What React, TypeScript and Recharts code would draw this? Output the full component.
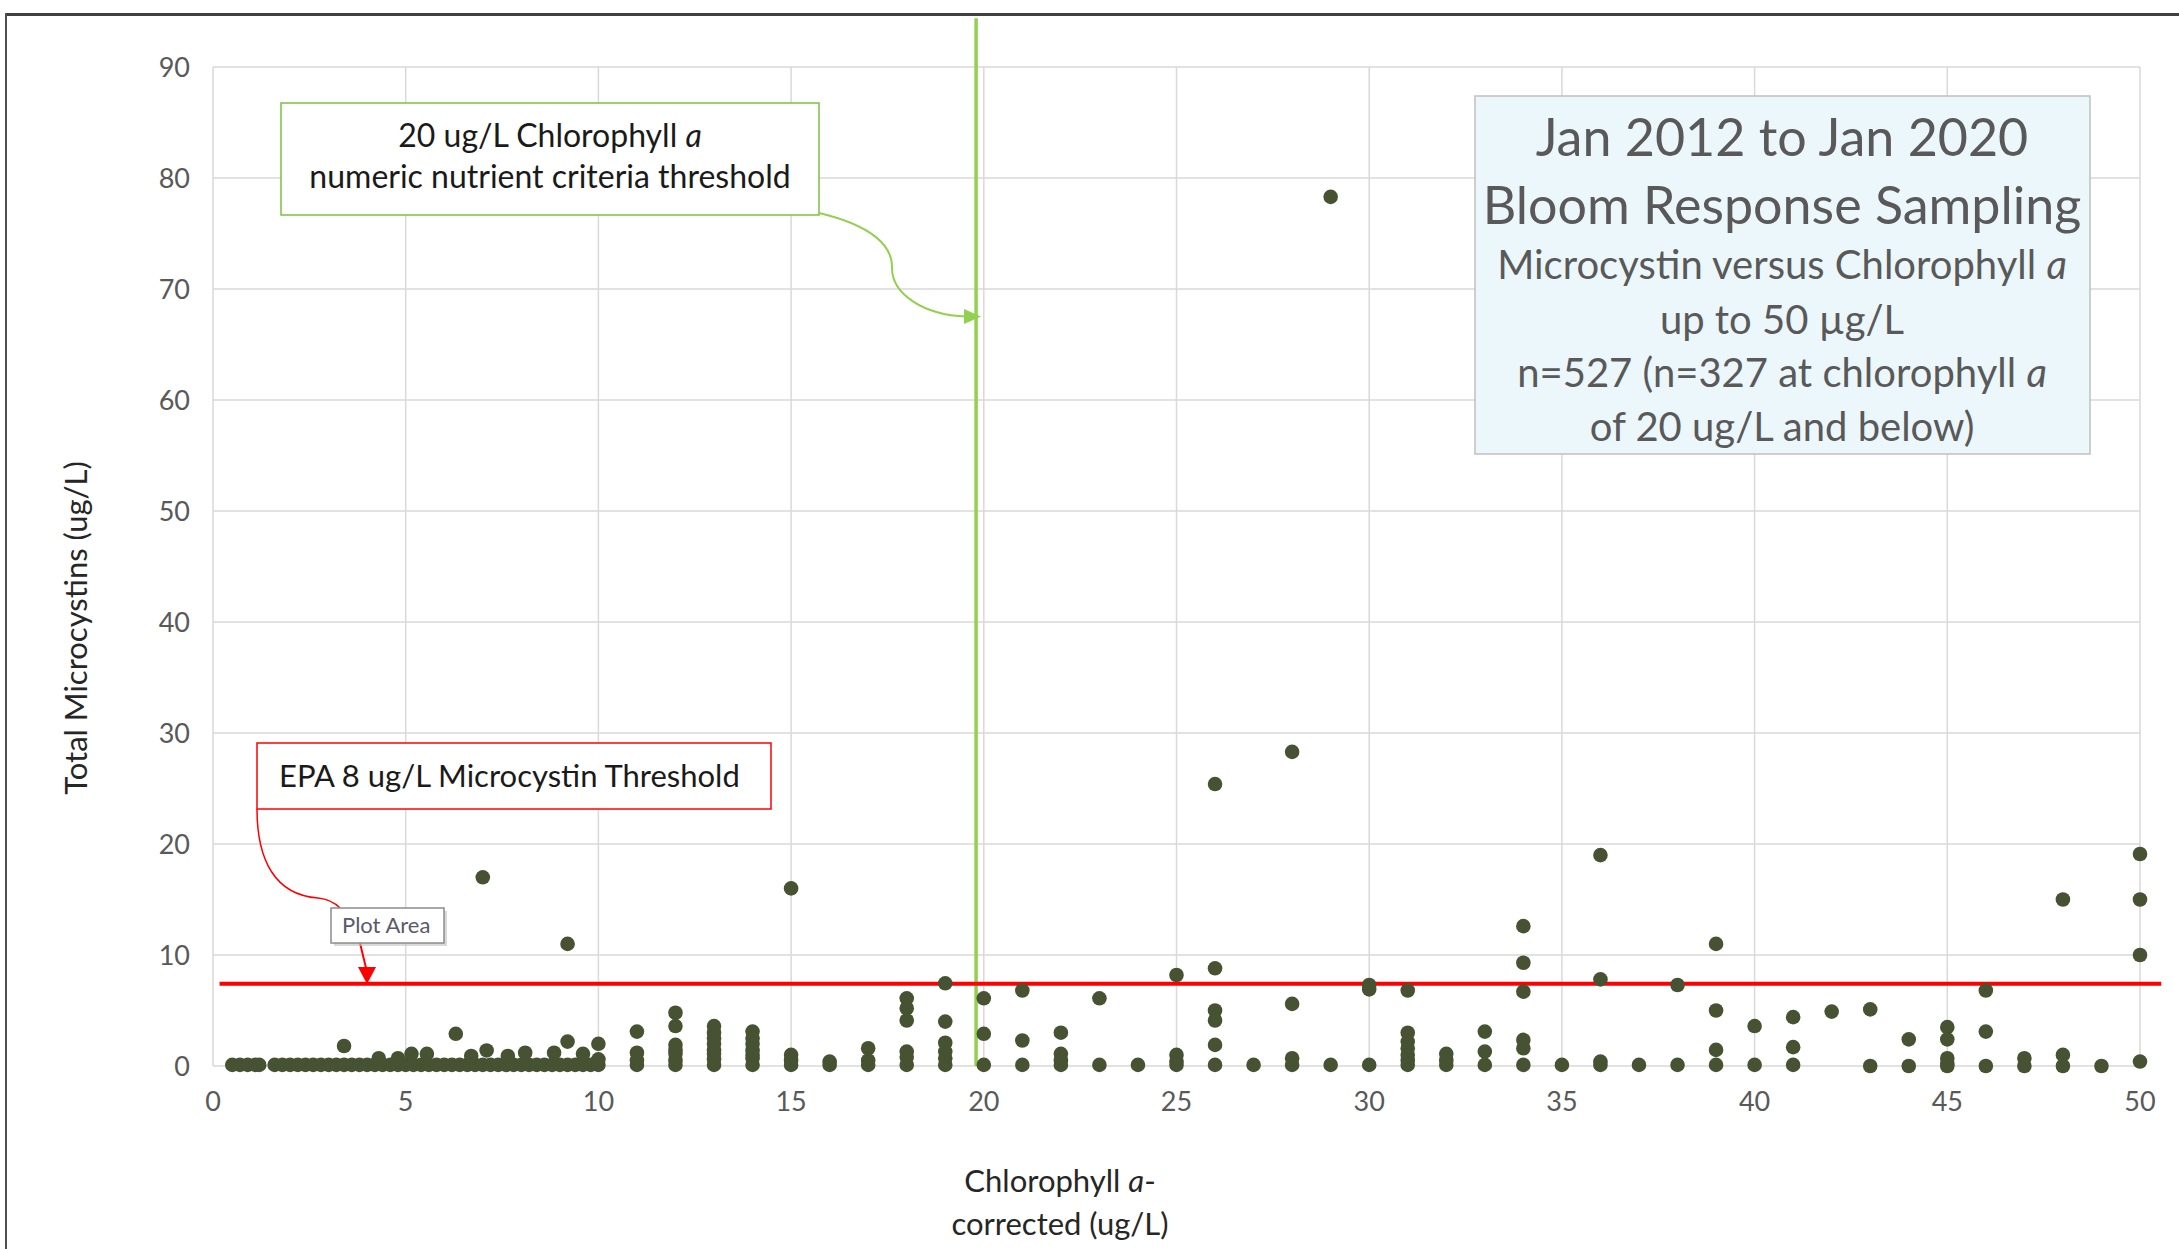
import React from 'react';
import { ScatterChart, Scatter, XAxis, YAxis, CartesianGrid, ReferenceLine } from 'recharts';

// [chlorophyll a (ug/L), total microcystins (ug/L)]
const samples0to10: [number, number][] = [
  [0.5, 0.1], [0.7, 0.1], [0.9, 0.1], [1.1, 0.1], [1.2, 0.1],
  [1.6, 0.1], [1.8, 0.1], [2.0, 0.1], [2.2, 0.1], [2.4, 0.1], [2.6, 0.1], [2.8, 0.1],
  [3.0, 0.1], [3.2, 0.1], [3.4, 0.1], [3.6, 0.1], [3.8, 0.1], [4.0, 0.1], [4.2, 0.1],
  [4.4, 0.1], [4.6, 0.1], [4.8, 0.1], [5.0, 0.1], [5.2, 0.1], [5.4, 0.1], [5.6, 0.1],
  [5.8, 0.1], [6.0, 0.1], [6.2, 0.1], [6.4, 0.1], [6.6, 0.1], [6.8, 0.1], [7.0, 0.1],
  [7.2, 0.1], [7.4, 0.1], [7.6, 0.1], [7.8, 0.1], [8.0, 0.1], [8.2, 0.1], [8.4, 0.1],
  [8.6, 0.1], [8.8, 0.1], [9.0, 0.1], [9.2, 0.1], [9.4, 0.1], [9.6, 0.1], [9.8, 0.1], [10.0, 0.1],
  [3.4, 1.8], [4.3, 0.7], [4.8, 0.7], [5.15, 1.1], [5.55, 1.1], [6.3, 2.9],
  [6.7, 0.9], [7.1, 1.4], [7.65, 0.9], [8.1, 1.2], [8.85, 1.2],
  [9.2, 2.2], [9.6, 1.1], [10.0, 2.0], [10.0, 0.6],
];

const samples10to20: [number, number][] = [
  [11, 3.1], [11, 1.2], [11, 0.5], [11, 0.1],
  [12, 4.8], [12, 3.6], [12, 1.9], [12, 1.4], [12, 1.1], [12, 0.5], [12, 0.1],
  [13, 3.6], [13, 3.0], [13, 2.5], [13, 2.0], [13, 1.4], [13, 1.1], [13, 0.6], [13, 0.1],
  [14, 3.1], [14, 2.5], [14, 2.0], [14, 1.4], [14, 1.0], [14, 0.7], [14, 0.1],
  [15, 1.0], [15, 0.5], [15, 0.1],
  [16, 0.4], [16, 0.1],
  [17, 1.6], [17, 0.5], [17, 0.1],
  [18, 6.1], [18, 5.2], [18, 4.1], [18, 1.3], [18, 0.8], [18, 0.1],
  [19, 7.45], [19, 4.0], [19, 2.1], [19, 1.3], [19, 0.7], [19, 0.1],
];

const samples20to30: [number, number][] = [
  [20, 6.1], [20, 2.9], [20, 0.1],
  [21, 6.8], [21, 2.3], [21, 0.1],
  [22, 3.0], [22, 1.1], [22, 0.5], [22, 0.1],
  [23, 6.1], [23, 0.1],
  [24, 0.1],
  [25, 8.2], [25, 1.0], [25, 0.4], [25, 0.1],
  [26, 8.8], [26, 5.0], [26, 4.1], [26, 1.9], [26, 0.1],
  [27, 0.1],
  [28, 5.6], [28, 0.7], [28, 0.1],
  [29, 0.1],
];

const samples30to40: [number, number][] = [
  [30, 7.3], [30, 6.9], [30, 0.1],
  [31, 6.8], [31, 3.0], [31, 2.2], [31, 1.6], [31, 1.0], [31, 0.5], [31, 0.1],
  [32, 1.1], [32, 0.5], [32, 0.1],
  [33, 3.1], [33, 1.3], [33, 0.1],
  [34, 9.3], [34, 6.7], [34, 2.35], [34, 1.6], [34, 0.1],
  [35, 0.1],
  [36, 7.8], [36, 0.4], [36, 0.1],
  [37, 0.1],
  [38, 7.3], [38, 0.1],
  [39, 5.0], [39, 1.45], [39, 0.1],
];

const samples40to50: [number, number][] = [
  [40, 3.6], [40, 0.1],
  [41, 4.4], [41, 1.7], [41, 0.1],
  [42, 4.9],
  [43, 5.1], [43, 0.0],
  [44, 2.4], [44, 0.0],
  [45, 3.5], [45, 2.4], [45, 0.7], [45, 0.2], [45, 0.0],
  [46, 6.8], [46, 3.1], [46, 0.0],
  [47, 0.7], [47, 0.0],
  [48, 1.0], [48, 0.0],
  [49, 0.0],
  [50, 0.4],
];

const outliers: [number, number][] = [
  [7.0, 17.0], [9.2, 11.0], [15.0, 16.0], [26.0, 25.4], [28.0, 28.3], [29.0, 78.3],
  [34.0, 12.6], [36.0, 19.0], [39.0, 11.0], [48.0, 15.0], [50.0, 19.1], [50.0, 15.0], [50.0, 10.0],
];

const xTicks = [0, 5, 10, 15, 20, 25, 30, 35, 40, 45, 50];
const yTicks = [0, 10, 20, 30, 40, 50, 60, 70, 80, 90];

const epaThreshold = 7.4;
const chlCriteria = 19.8;

const DOT = '#465232';
const FONT = 'Lato, "Open Sans", sans-serif';

const data = [...samples0to10, ...samples10to20, ...samples20to30, ...samples30to40, ...samples40to50, ...outliers]
  .map(([chl, mc]) => ({ chl, mc }));

const XTitle = () => (
  <text x={1060} textAnchor="middle" fontFamily={FONT} fontSize={31} fill="#262626">
    <tspan x={1060} y={1192}>Chlorophyll <tspan fontStyle="italic">a</tspan>-</tspan>
    <tspan x={1060} y={1235}>corrected (ug/L)</tspan>
  </text>
);

const YTitle = () => (
  <text x={0} y={0} transform="translate(87,628) rotate(-90)" textAnchor="middle"
    fontFamily={FONT} fontSize={31} fill="#262626">
    Total Microcystins (ug/L)
  </text>
);

const Annotations = () => (
  <svg width={2179} height={1249} style={{ position: 'absolute', left: 0, top: 0, pointerEvents: 'none' }}>
    {/* green callout */}
    <rect x={281} y={103} width={538} height={112} fill="#fff" stroke="#7ac142" strokeWidth={1.5} />
    <text textAnchor="middle" fontFamily={FONT} fontSize={32} fill="#1a1a1a">
      <tspan x={550} y={147}>20 ug/L Chlorophyll <tspan fontStyle="italic">a</tspan></tspan>
      <tspan x={550} y={188}>numeric nutrient criteria threshold</tspan>
    </text>
    <path d="M 819 213 C 870 225, 893 245, 892 268 C 892 295, 925 315, 966 316.5" fill="none" stroke="#92d050" strokeWidth={2} />
    <polygon points="981,316.5 964,309 964,324" fill="#92d050" />

    {/* red callout */}
    <rect x={257} y={743} width={514} height={66} fill="#fff" stroke="#ff0000" strokeWidth={1.5} />
    <text x={279} y={787} fontFamily={FONT} fontSize={31} fill="#1a1a1a">EPA 8 ug/L Microcystin Threshold</text>
    <path d="M 257 809 C 257 860, 275 895, 318 898 C 328 899, 336 904, 340 908" fill="none" stroke="#ff0000" strokeWidth={1.5} />
    <line x1={360} y1={943} x2={366} y2={968} stroke="#ff0000" strokeWidth={2} />
    <polygon points="367,984 358,967 376,967" fill="#ff0000" />
    <rect x={334} y={911} width={113} height={35} fill="#bfbfbf" opacity={0.6} />
    <rect x={331} y={908} width={113} height={35} fill="#fff" stroke="#8c8c8c" strokeWidth={1.5} />
    <text x={342} y={933} fontFamily={FONT} fontSize={22} fill="#5a5a6a">Plot Area</text>

    {/* info box */}
    <rect x={1475} y={96} width={615} height={358} fill="#ecf7fc" stroke="#c0c0c0" strokeWidth={1.5} />
    <text textAnchor="middle" fontFamily={FONT} fill="#595959">
      <tspan x={1782} y={156} fontSize={52}>Jan 2012 to Jan 2020</tspan>
      <tspan x={1782} y={224} fontSize={52}>Bloom Response Sampling</tspan>
      <tspan x={1782} y={279} fontSize={40}>Microcystin versus Chlorophyll <tspan fontStyle="italic">a</tspan></tspan>
      <tspan x={1782} y={334} fontSize={40}>up to 50 µg/L</tspan>
      <tspan x={1782} y={387} fontSize={40}>n=527 (n=327 at chlorophyll <tspan fontStyle="italic">a</tspan></tspan>
      <tspan x={1782} y={441} fontSize={40}>of 20 ug/L and below)</tspan>
    </text>
  </svg>
);

export default function App() {
  return (
    <div style={{ position: 'absolute', left: 0, top: 0, width: 2179, height: 1249, background: '#fff', overflow: 'hidden' }}>
      <ScatterChart width={2179} height={1249} margin={{ top: 67, right: 39, bottom: 83, left: 63 }}>
        <CartesianGrid stroke="#d9d9d9" strokeWidth={1.5} />
        <XAxis type="number" dataKey="chl" domain={[0, 50]} ticks={xTicks} interval={0}
          axisLine={false} tickLine={false} tickSize={0} tickMargin={26} height={100}
          tick={{ fontSize: 27, fill: '#595959', fontFamily: FONT }} label={XTitle} />
        <YAxis type="number" dataKey="mc" domain={[0, 90]} ticks={yTicks} interval={0}
          axisLine={false} tickLine={false} tickSize={0} tickMargin={23} width={150}
          tick={{ fontSize: 27, fill: '#595959', fontFamily: FONT }} label={YTitle} />
        <ReferenceLine segment={[{ x: chlCriteria, y: 0 }, { x: chlCriteria, y: 94.4 }]}
          stroke="#92d050" strokeWidth={3.5} ifOverflow="visible" />
        <ReferenceLine segment={[{ x: 0.17, y: epaThreshold }, { x: 50.55, y: epaThreshold }]}
          stroke="#ff0000" strokeWidth={4} ifOverflow="visible" />
        <Scatter data={data} isAnimationActive={false}
          shape={(p: any) => <circle cx={p.cx} cy={p.cy} r={7.3} fill={DOT} />} />
      </ScatterChart>
      <Annotations />
      <div style={{ position: 'absolute', left: 6, top: 13, width: 2173, height: 0, borderTop: '3px solid #404040' }} />
      <div style={{ position: 'absolute', left: 5, top: 13, width: 0, height: 1236, borderLeft: '2px solid #505050' }} />
    </div>
  );
}
